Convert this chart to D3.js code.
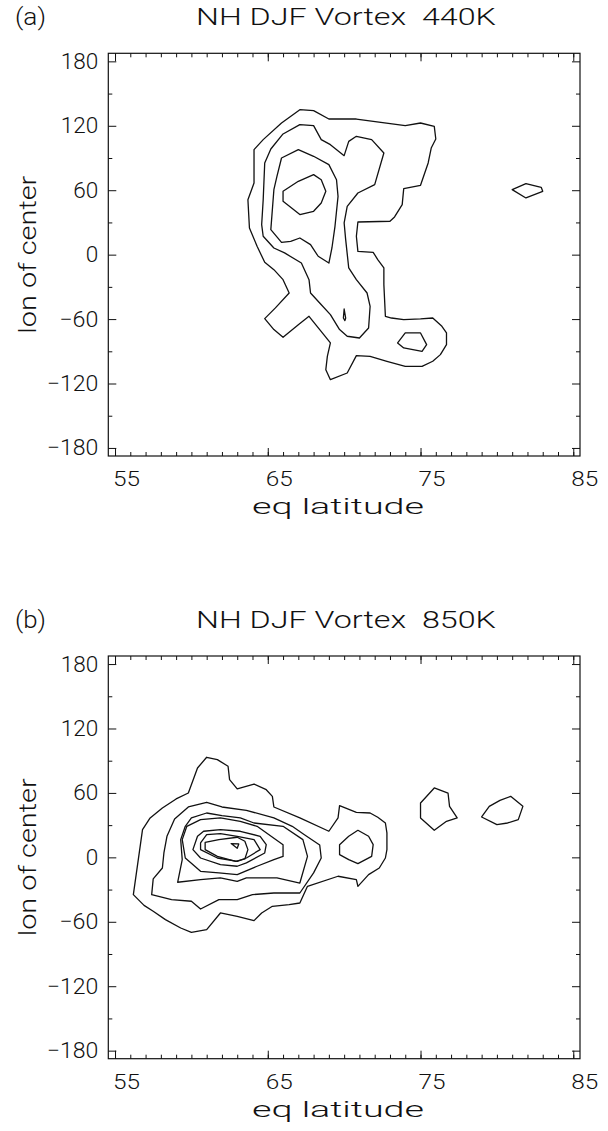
<!DOCTYPE html>
<meta charset="utf-8">
<style>
body { margin: 0; background: #fff; }
text { font-family: "Roboto", "Liberation Sans", sans-serif; font-weight: 300; fill: #111; }
.contour { fill: none; stroke: #111; stroke-width: 1.3px; stroke-linejoin: round; }
.axis path { display: none; }
.axis line { stroke: #111; stroke-width: 1px; }
.frame { fill: none; stroke: #111; stroke-width: 1.2px; }
</style>
<body>
<script src="https://d3js.org/d3.v7.min.js"></script>
<script>

// tick labels
var latTicks = [55, 65, 75, 85];
var lonTicks = [-180, -120, -60, 0, 60, 120, 180];

// panel (a) 440K contours, [eq latitude, lon of center]
var ring440a = [[67.1,135.0],[68.0,134.1],[69.0,126.3],[70.8,126.3],[74.0,120.1],[75.0,122.6],[75.9,119.5],[76.0,107.7],[75.7,99.3],[75.5,85.4],[75.0,64.6],[73.9,61.5],[73.8,46.6],[73.3,35.1],[73.0,31.1],[70.9,30.4],[70.8,17.1],[70.9,3.1],[71.9,2.2],[72.2,-4.6],[72.6,-12.4],[72.6,-27.9],[72.7,-57.4],[73.1,-59.0],[73.9,-60.5],[75.0,-59.9],[75.8,-59.0],[76.4,-66.7],[76.7,-72.9],[76.7,-83.8],[76.3,-93.1],[75.8,-99.3],[75.1,-104.0],[74.0,-104.0],[72.8,-99.3],[71.7,-94.7],[70.8,-94.0],[70.2,-110.2],[69.1,-116.4],[68.8,-107.1],[68.9,-94.7],[69.1,-82.2],[68.4,-69.8],[67.7,-57.4],[67.0,-65.2],[66.0,-77.0],[65.4,-69.8],[64.8,-59.6],[65.5,-49.6],[66.4,-35.7],[66.0,-23.3],[65.4,-14.0],[64.8,-7.1],[64.3,7.8],[63.8,24.8],[63.7,51.2],[64.1,66.7],[64.1,97.8],[64.7,107.1],[65.9,122.6]];
var ring440b = [[67.1,121.1],[68.0,120.1],[68.5,107.1],[69.1,102.4],[70.0,92.2],[70.3,105.5],[70.8,110.2],[71.8,107.1],[72.6,94.7],[72.0,65.2],[70.9,57.4],[70.2,45.0],[70.0,29.5],[70.1,14.0],[70.3,-12.4],[70.8,-23.3],[71.5,-35.7],[71.7,-48.1],[71.6,-68.3],[71.0,-77.6],[70.2,-76.0],[69.7,-69.8],[69.1,-55.9],[68.4,-45.0],[67.8,-35.7],[67.7,-23.3],[67.2,-7.8],[66.1,1.6],[65.4,6.2],[64.7,17.1],[64.6,27.9],[64.7,51.2],[64.8,85.4],[65.2,98.4],[66.0,112.4]];
var ring440c = [[65.9,90.0],[67.0,97.8],[68.0,91.6],[69.0,83.8],[69.5,69.8],[69.6,54.3],[69.4,26.4],[69.2,6.2],[69.0,-7.8],[68.3,-1.5],[67.8,9.3],[67.1,15.5],[66.5,12.4],[65.9,11.5],[65.2,23.3],[65.4,60.5],[65.6,72.9]];
var ring440d = [[66.0,59.0],[67.0,68.3],[68.0,74.5],[68.5,69.8],[68.8,59.0],[68.5,48.1],[68.0,40.4],[67.1,37.3],[66.0,49.7]];
var ring440e = [[70.0,-50.6],[70.1,-59.0],[70.05,-61.4],[69.95,-59.0]];
var ring440f = [[73.5,-82.2],[74.0,-72.9],[75.0,-72.9],[75.4,-83.8],[75.1,-90.0],[73.9,-86.9]];
var ring440g = [[81.0,60.6],[81.9,66.1],[82.9,62.7],[83.0,59.0],[81.9,52.8]];

// panel (b) 850K contours
var ring850a = [[56.2,-34.7],[56.8,25.8],[57.3,36.7],[58.1,45.9],[59.0,54.4],[59.8,59.9],[60.4,83.2],[61.0,93.2],[61.7,91.0],[62.4,84.8],[62.5,72.4],[63.0,63.7],[64.1,68.3],[64.9,63.0],[65.3,56.8],[65.4,46.9],[67.1,36.7],[69.0,24.3],[69.6,36.7],[69.7,48.1],[70.8,41.9],[71.7,41.3],[72.2,37.3],[72.7,32.0],[72.8,22.7],[72.8,7.2],[72.7,-0.6],[72.3,-9.9],[71.6,-16.1],[70.9,-27.0],[70.8,-20.8],[69.6,-17.6],[67.6,-27.0],[67.1,-42.5],[66.4,-44.0],[65.3,-45.6],[64.6,-51.8],[64.1,-58.9],[63.0,-54.9],[61.9,-51.8],[61.0,-67.3],[60.0,-69.8],[59.3,-65.8],[58.3,-58.0],[57.5,-50.2],[56.9,-44.7]];
var ring850b = [[57.4,-34.7],[57.5,-20.1],[58.1,-9.9],[58.2,4.1],[58.4,19.6],[58.9,35.7],[59.8,46.9],[61.0,51.3],[62.0,46.9],[63.6,43.8],[65.4,36.7],[66.6,28.9],[67.4,21.1],[68.4,11.5],[68.5,-0.6],[68.0,-14.5],[67.1,-33.2],[65.4,-33.2],[64.0,-34.7],[63.0,-39.4],[61.8,-39.4],[60.6,-48.1],[60.0,-40.9],[58.7,-39.4]];
var ring850c = [[59.1,-23.2],[59.4,-2.1],[59.3,16.5],[59.6,28.9],[60.0,36.7],[61.0,41.3],[62.0,38.8],[63.2,36.7],[64.1,32.0],[66.0,28.9],[67.3,16.5],[67.6,0.9],[67.1,-23.9],[65.6,-19.2],[63.6,-19.2],[63.0,-22.3],[61.9,-19.2],[60.6,-20.8]];
var ring850d = [[59.6,-0.6],[59.4,16.5],[59.7,28.9],[60.6,35.1],[61.9,36.7],[63.2,33.6],[64.3,28.9],[66.0,11.8],[66.0,0.9],[65.4,-2.1],[64.3,-8.3],[63.0,-16.1],[61.8,-14.5],[60.6,-13.0]];
var ring850e = [[60.1,7.2],[60.4,19.6],[60.8,24.3],[61.9,25.8],[63.2,24.3],[64.5,19.6],[64.9,11.8],[64.8,4.1],[63.6,-5.2],[63.0,-8.3],[61.9,-6.8],[60.6,-0.6]];
var ring850f = [[60.6,13.4],[61.0,21.1],[61.9,22.1],[63.0,19.6],[64.1,16.5],[64.5,7.2],[63.6,-0.6],[63.0,-3.7],[61.7,-0.6],[60.6,7.2]];
var ring850g = [[60.9,7.2],[60.9,14.0],[61.8,16.5],[63.0,18.7],[63.5,15.0],[63.7,7.2],[63.5,-1.5],[62.9,-3.7],[61.7,0.9]];
var ring850h = [[62.6,12.8],[63.1,12.5],[63.0,8.4]];
var ring850i = [[69.7,11.8],[70.3,19.6],[70.9,25.2],[71.6,19.6],[71.9,11.8],[71.8,0.9],[70.9,-5.9],[70.3,-2.1],[69.7,2.5]];
var ring850j = [[75.0,50.6],[75.9,64.6],[76.8,59.9],[76.9,47.5],[77.4,36.7],[76.7,33.6],[75.9,25.2],[75.0,36.7]];
var ring850k = [[79.0,37.6],[79.5,47.5],[80.2,53.1],[80.9,56.8],[81.7,47.5],[81.4,35.1],[80.7,32.0],[80.0,30.5]];

var panels = [
  {label: "(a)", title: "NH DJF Vortex  440K", top: 53.3,
   rings: [ring440a, ring440b, ring440c, ring440d, ring440e, ring440f, ring440g]},
  {label: "(b)", title: "NH DJF Vortex  850K", top: 656,
   rings: [ring850a, ring850b, ring850c, ring850d, ring850e, ring850f, ring850g, ring850h, ring850i, ring850j, ring850k]}
];

// layout
var plotLeft = 108.3, plotRight = 580, plotH = 402.7;

var svg = d3.select("body").append("svg")
    .attr("width", 608)
    .attr("height", 1131);

var x = d3.scaleLinear().domain([54.56, 85.44]).range([plotLeft, plotRight]);

// stretch a text to a given width, like the wide plotter font of the original
function stretch(sel, w) {
  sel.attr("textLength", w).attr("lengthAdjust", "spacingAndGlyphs");
}

panels.forEach(function(p) {
  var top = p.top;
  var y = d3.scaleLinear().domain([-187.5, 187.5]).range([top + plotH, top]);
  var g = svg.append("g");

  var line = d3.line()
      .x(function(d) { return x(d[0]); })
      .y(function(d) { return y(d[1]); })
      .curve(d3.curveLinearClosed);

  g.selectAll(".contour")
      .data(p.rings)
    .enter().append("path")
      .attr("class", "contour")
      .attr("d", line);

  // frame
  g.append("rect")
      .attr("class", "frame")
      .attr("x", plotLeft).attr("y", top)
      .attr("width", plotRight - plotLeft).attr("height", plotH);

  // bottom axis
  var bx = g.append("g").attr("class", "axis")
      .attr("transform", "translate(0," + (top + plotH) + ")")
      .call(d3.axisBottom(x).tickValues(latTicks).tickSize(-8).tickSizeOuter(0));
  bx.selectAll("text")
      .attr("x", 11).attr("y", 30).attr("dy", null)
      .style("font-size", "21px").style("font-family", null)
      .call(stretch, 27);
  g.append("g").attr("class", "axis")
      .attr("transform", "translate(0," + (top + plotH) + ")")
      .call(d3.axisBottom(x).tickValues(d3.range(55, 86)).tickSize(-4).tickSizeOuter(0).tickFormat(""));

  // top axis
  g.append("g").attr("class", "axis")
      .attr("transform", "translate(0," + top + ")")
      .call(d3.axisTop(x).tickValues(latTicks).tickSize(-8).tickSizeOuter(0).tickFormat(""));
  g.append("g").attr("class", "axis")
      .attr("transform", "translate(0," + top + ")")
      .call(d3.axisTop(x).tickValues(d3.range(55, 86)).tickSize(-4).tickSizeOuter(0).tickFormat(""));

  // left axis
  var ly = g.append("g").attr("class", "axis")
      .attr("transform", "translate(" + plotLeft + ",0)")
      .call(d3.axisLeft(y).tickValues(lonTicks).tickSize(-8).tickSizeOuter(0).tickPadding(10));
  ly.selectAll("text").style("font-size", "22px").style("font-family", null)
      .text(function(d) { return d < 0 ? "\u2212" + Math.abs(d) : d; })
      .each(function(d) {
        var s = String(Math.abs(d));
        d3.select(this).call(stretch, s.length * 12.5 + (d < 0 ? 14 : 0));
      });
  g.append("g").attr("class", "axis")
      .attr("transform", "translate(" + plotLeft + ",0)")
      .call(d3.axisLeft(y).tickValues(d3.range(-150, 180, 60)).tickSize(-4).tickSizeOuter(0).tickFormat(""));

  // right axis
  g.append("g").attr("class", "axis")
      .attr("transform", "translate(" + plotRight + ",0)")
      .call(d3.axisRight(y).tickValues(lonTicks).tickSize(-8).tickSizeOuter(0).tickFormat(""));
  g.append("g").attr("class", "axis")
      .attr("transform", "translate(" + plotRight + ",0)")
      .call(d3.axisRight(y).tickValues(d3.range(-150, 180, 60)).tickSize(-4).tickSizeOuter(0).tickFormat(""));

  // titles
  g.append("text")
      .attr("x", 15).attr("y", top - 28)
      .style("font-size", "23px")
      .text(p.label)
      .call(stretch, 31);
  g.append("text")
      .attr("x", 196).attr("y", top - 28)
      .style("font-size", "23px")
      .text(p.title.replace(/  /g, "\u00a0\u00a0"))
      .call(stretch, 300);
  g.append("text")
      .attr("x", 252).attr("y", top + plotH + 58)
      .style("font-size", "22px")
      .text("eq latitude")
      .call(stretch, 172);
  g.append("text")
      .attr("transform", "translate(36," + (top + plotH / 2) + ") rotate(-90)")
      .attr("text-anchor", "middle")
      .style("font-size", "23px")
      .text("lon of center")
      .call(stretch, 158);
});

</script>
</body>
